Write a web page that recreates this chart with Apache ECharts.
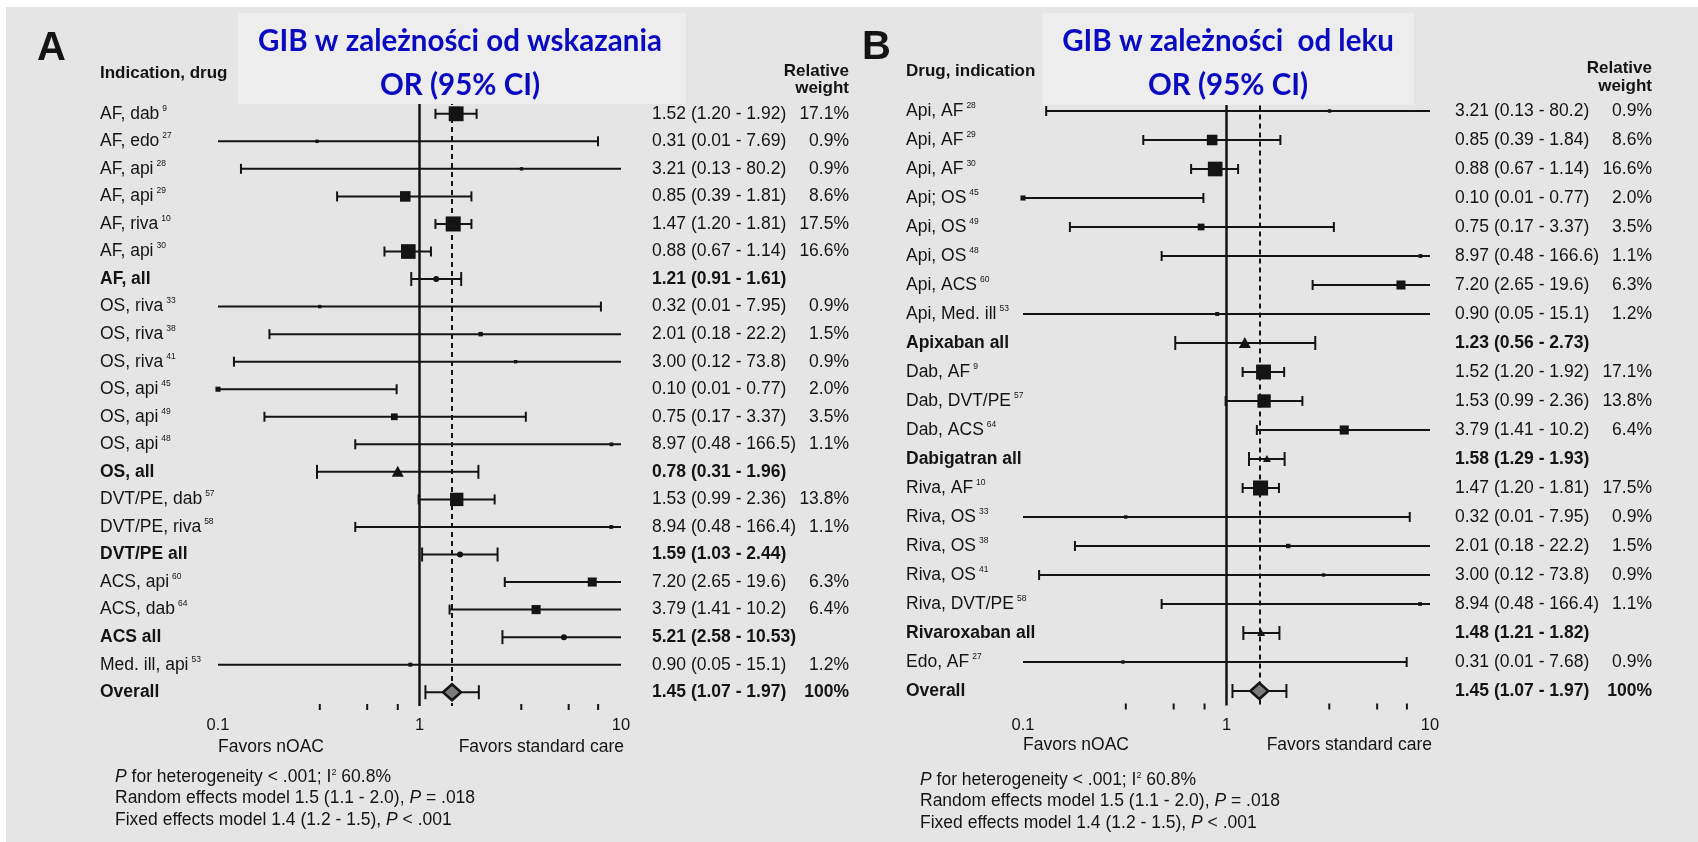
<!DOCTYPE html>
<html>
<head>
<meta charset="utf-8">
<script src="https://cdn.jsdelivr.net/npm/echarts@6/dist/echarts.min.js"></script>
<style>
html, body { margin: 0; padding: 0; background: #fff; }
#chart { width: 1698px; height: 842px; }
</style>
</head>
<body>
<div id="chart"></div>
<script>
// Panel A: GIB by indication
const labelsA = ['AF, dab', 'AF, edo', 'AF, api', 'AF, api', 'AF, riva', 'AF, api', 'AF, all',
  'OS, riva', 'OS, riva', 'OS, riva', 'OS, api', 'OS, api', 'OS, api', 'OS, all',
  'DVT/PE, dab', 'DVT/PE, riva', 'DVT/PE all', 'ACS, api', 'ACS, dab', 'ACS all',
  'Med. ill, api', 'Overall'];
const refsA = ['9', '27', '28', '29', '10', '30', '', '33', '38', '41', '45', '49', '48', '',
  '57', '58', '', '60', '64', '', '53', ''];
const orA = [1.52, 0.31, 3.21, 0.85, 1.47, 0.88, 1.21, 0.32, 2.01, 3.00, 0.10, 0.75, 8.97, 0.78,
  1.53, 8.94, 1.59, 7.20, 3.79, 5.21, 0.90, 1.45];
const loA = [1.20, 0.01, 0.13, 0.39, 1.20, 0.67, 0.91, 0.01, 0.18, 0.12, 0.01, 0.17, 0.48, 0.31,
  0.99, 0.48, 1.03, 2.65, 1.41, 2.58, 0.05, 1.07];
const hiA = [1.92, 7.69, 80.2, 1.81, 1.81, 1.14, 1.61, 7.95, 22.2, 73.8, 0.77, 3.37, 166.5, 1.96,
  2.36, 166.4, 2.44, 19.6, 10.2, 10.53, 15.1, 1.97];
const weightA = [17.1, 0.9, 0.9, 8.6, 17.5, 16.6, null, 0.9, 1.5, 0.9, 2.0, 3.5, 1.1, null,
  13.8, 1.1, null, 6.3, 6.4, null, 1.2, 100];
const kindA = ['sq', 'sq', 'sq', 'sq', 'sq', 'sq', 'dot', 'sq', 'sq', 'sq', 'sq', 'sq', 'sq', 'tri',
  'sq', 'sq', 'dot', 'sq', 'sq', 'dot', 'sq', 'dia'];

// Panel B: GIB by drug
const labelsB = ['Api, AF', 'Api, AF', 'Api, AF', 'Api; OS', 'Api, OS', 'Api, OS', 'Api, ACS', 'Api, Med. ill',
  'Apixaban all', 'Dab, AF', 'Dab, DVT/PE', 'Dab, ACS', 'Dabigatran all',
  'Riva, AF', 'Riva, OS', 'Riva, OS', 'Riva, OS', 'Riva, DVT/PE', 'Rivaroxaban all', 'Edo, AF', 'Overall'];
const refsB = ['28', '29', '30', '45', '49', '48', '60', '53', '', '9', '57', '64', '',
  '10', '33', '38', '41', '58', '', '27', ''];
const orB = [3.21, 0.85, 0.88, 0.10, 0.75, 8.97, 7.20, 0.90, 1.23, 1.52, 1.53, 3.79, 1.58,
  1.47, 0.32, 2.01, 3.00, 8.94, 1.48, 0.31, 1.45];
const loB = [0.13, 0.39, 0.67, 0.01, 0.17, 0.48, 2.65, 0.05, 0.56, 1.20, 0.99, 1.41, 1.29,
  1.20, 0.01, 0.18, 0.12, 0.48, 1.21, 0.01, 1.07];
const hiB = [80.2, 1.84, 1.14, 0.77, 3.37, 166.6, 19.6, 15.1, 2.73, 1.92, 2.36, 10.2, 1.93,
  1.81, 7.95, 22.2, 73.8, 166.4, 1.82, 7.68, 1.97];
const weightB = [0.9, 8.6, 16.6, 2.0, 3.5, 1.1, 6.3, 1.2, null, 17.1, 13.8, 6.4, null,
  17.5, 0.9, 1.5, 0.9, 1.1, null, 0.9, 100];
const kindB = ['sq', 'sq', 'sq', 'sq', 'sq', 'sq', 'sq', 'sq', 'tri', 'sq', 'sq', 'sq', 'tris',
  'sq', 'sq', 'sq', 'sq', 'sq', 'tris', 'sq', 'dia'];

const xTicks = [0.1, 1, 10];
const minorTicks = [0.32, 0.55, 0.78, 3.2, 5.5, 7.7];

const X_MIN = 0.1, X_MAX = 10;
const INK = '#141414';
const FONT = '"Liberation Sans", Arial, sans-serif';
const FS = 17.5;

const chart = echarts.init(document.getElementById('chart'));

function fmt(v, pooled) {
  return (!pooled && v >= 10) ? v.toFixed(1) : v.toFixed(2);
}

function forestItem(or, lo, hi, wt, kind) {
  return function (params, api) {
    const i = params.dataIndex;
    const y = api.coord([1, i])[1];
    const a = Math.max(lo[i], X_MIN), b = Math.min(hi[i], X_MAX);
    const x0 = api.coord([a, i])[0];
    const x1 = api.coord([b, i])[0];
    const xc = api.coord([or[i], i])[0];
    const pooled = wt[i] == null || wt[i] === 100;
    const capH = pooled ? 7 : 5;
    const line = { stroke: INK, lineWidth: 2 };
    const kids = [{ type: 'line', shape: { x1: x0, y1: y, x2: x1, y2: y }, style: line }];
    if (lo[i] >= X_MIN) kids.push({ type: 'line', shape: { x1: x0, y1: y - capH, x2: x0, y2: y + capH }, style: line });
    if (hi[i] <= X_MAX) kids.push({ type: 'line', shape: { x1: x1, y1: y - capH, x2: x1, y2: y + capH }, style: line });
    const k = kind[i];
    if (k === 'sq') {
      const s = Math.max(3, 3.6 * Math.sqrt(wt[i]));
      kids.push({ type: 'rect', shape: { x: xc - s / 2, y: y - s / 2, width: s, height: s }, style: { fill: INK } });
    } else if (k === 'dot') {
      kids.push({ type: 'circle', shape: { cx: xc, cy: y, r: 3 }, style: { fill: INK } });
    } else if (k === 'tri' || k === 'tris') {
      const t = k === 'tri' ? 6 : 4;
      kids.push({ type: 'polygon', shape: { points: [[xc, y - t], [xc - t, y + t - 1], [xc + t, y + t - 1]] }, style: { fill: INK } });
    } else if (k === 'dia') {
      kids.push({ type: 'polygon', shape: { points: [[xc - 9, y], [xc, y - 8], [xc + 9, y], [xc, y + 8]] },
        style: { fill: '#7a7a7a', stroke: INK, lineWidth: 2.5 } });
    }
    return { type: 'group', children: kids };
  };
}

function minorTickItem(params, api) {
  const x = api.coord([api.value(0), 0])[0];
  const bottom = params.coordSys.y + params.coordSys.height;
  return { type: 'line', shape: { x1: x, y1: bottom - 2, x2: x, y2: bottom + 4 }, style: { stroke: INK, lineWidth: 2 } };
}

const richLeft = {
  n: { fontSize: FS, color: INK, fontFamily: FONT, lineHeight: 20 },
  s: { fontSize: 8.5, color: INK, fontFamily: FONT, verticalAlign: 'top', padding: [0, 0, 0, 3] },
  b: { fontSize: FS, color: INK, fontFamily: FONT, fontWeight: 'bold', lineHeight: 20 }
};

function rightRich(ciW) {
  return {
    ci: { width: ciW, fontSize: FS, color: INK, fontFamily: FONT },
    w: { width: 52, align: 'right', fontSize: FS, color: INK, fontFamily: FONT },
    cb: { width: ciW, fontSize: FS, color: INK, fontFamily: FONT, fontWeight: 'bold' },
    wb: { width: 52, align: 'right', fontSize: FS, color: INK, fontFamily: FONT, fontWeight: 'bold' }
  };
}

function panel(idx, labels, refs, or, lo, hi, wt, kind, rightMargin, ciW) {
  const cats = labels.map((_, i) => String(i));
  const yLeft = {
    type: 'category', gridIndex: idx, inverse: true, data: cats,
    axisLine: { show: false }, axisTick: { show: false },
    axisLabel: {
      align: 'left', margin: idx === 0 ? 118 : 117,
      formatter: (v, i) => refs[i] ? `{n|${labels[i]}}{s|${refs[i]}}` : `{b|${labels[i]}}`,
      rich: richLeft
    }
  };
  const yRight = {
    type: 'category', gridIndex: idx, inverse: true, data: cats, position: 'right',
    axisLine: { show: false }, axisTick: { show: false },
    axisLabel: {
      align: 'left', margin: rightMargin,
      formatter: (v, i) => {
        const pooled = wt[i] == null || wt[i] === 100;
        const ci = `${or[i].toFixed(2)} (${fmt(lo[i], pooled)} - ${fmt(hi[i], pooled)})`;
        const w = wt[i] == null ? '' : (wt[i] === 100 ? '100%' : wt[i].toFixed(1) + '%');
        return pooled ? `{cb|${ci}}{wb|${w}}` : `{ci|${ci}}{w|${w}}`;
      },
      rich: rightRich(ciW)
    }
  };
  const x = {
    type: 'log', logBase: 10, gridIndex: idx, min: X_MIN, max: X_MAX,
    axisLine: { lineStyle: { color: INK, width: 2.5 } },
    axisTick: { length: 5, lineStyle: { color: INK, width: 2 } },
    splitLine: { show: false },
    axisLabel: {
      fontSize: 16.5, color: INK, fontFamily: FONT, margin: 11,
      formatter: v => xTicks.some(t => Math.abs(t - v) < 1e-9) ? String(v) : ''
    }
  };
  const series = [
    {
      type: 'custom', xAxisIndex: idx, yAxisIndex: idx * 2,
      data: labels.map((_, i) => [or[i], i]),
      encode: { x: 0, y: 1 },
      renderItem: forestItem(or, lo, hi, wt, kind),
      z: 5,
      markLine: {
        silent: true, symbol: 'none', label: { show: false },
        data: [
          { xAxis: 1, lineStyle: { color: INK, width: 2.5, type: 'solid' } },
          { xAxis: or[or.length - 1], lineStyle: { color: INK, width: 2, type: [5, 4] } }
        ]
      }
    },
    {
      type: 'custom', xAxisIndex: idx, yAxisIndex: idx * 2,
      data: minorTicks.map(v => [v, 0]),
      encode: { x: 0, y: 1 },
      renderItem: minorTickItem
    }
  ];
  return { yAxes: [yLeft, yRight], x, series };
}

const pA = panel(0, labelsA, refsA, orA, loA, hiA, weightA, kindA, 31, 145);
const pB = panel(1, labelsB, refsB, orB, loB, hiB, weightB, kindB, 25, 145);

function txt(x, y, text, extra) {
  return { type: 'text', x, y, z: 20, style: Object.assign({ text, fill: INK, font: FS + 'px ' + FONT, textVerticalAlign: 'middle' }, extra) };
}

const footRich = {
  i: { fontStyle: 'italic', fontSize: FS, fontFamily: FONT, fill: INK },
  s: { fontSize: 9, fontFamily: FONT, fill: INK, verticalAlign: 'top' }
};

function footnotes(x, y) {
  return [
    txt(x, y, '{i|P} for heterogeneity < .001; I{s|2} 60.8%', { rich: footRich }),
    txt(x, y + 21.5, 'Random effects model 1.5 (1.1 - 2.0), {i|P} = .018', { rich: footRich }),
    txt(x, y + 43, 'Fixed effects model 1.4 (1.2 - 1.5), {i|P} < .001', { rich: footRich })
  ];
}

const BLUE = '#0a0ac0';
const titleFont = 'bold 29.5px Lato, "Liberation Sans", sans-serif';
const HEAD = 'bold 17px ' + FONT;

chart.setOption({
  backgroundColor: '#e5e5e5',
  animation: false,
  grid: [
    { left: 218, width: 403, top: 100, height: 606 },
    { left: 1023, width: 407, top: 96.5, height: 609 }
  ],
  xAxis: [pA.x, pB.x],
  yAxis: [...pA.yAxes, ...pB.yAxes],
  series: [...pA.series, ...pB.series],
  graphic: [
    { type: 'rect', z: 1, shape: { x: 0, y: 0, width: 1698, height: 7 }, style: { fill: '#ffffff' } },
    { type: 'rect', z: 1, shape: { x: 0, y: 0, width: 6, height: 842 }, style: { fill: '#ffffff' } },
    { type: 'rect', z: 10, shape: { x: 238, y: 13, width: 448, height: 91 }, style: { fill: '#ededed' } },
    { type: 'rect', z: 10, shape: { x: 1043, y: 13, width: 371, height: 92 }, style: { fill: '#ededed' } },
    txt(460, 41, 'GIB w zależności od wskazania', { font: titleFont, fill: BLUE, textAlign: 'center' }),
    txt(460, 85, 'OR (95% CI)', { font: titleFont, fill: BLUE, textAlign: 'center' }),
    txt(1228, 41, 'GIB w zależności  od leku', { font: titleFont, fill: BLUE, textAlign: 'center' }),
    txt(1228, 85, 'OR (95% CI)', { font: titleFont, fill: BLUE, textAlign: 'center' }),
    txt(37, 49, 'A', { font: 'bold 40px ' + FONT }),
    txt(862, 48, 'B', { font: 'bold 40px ' + FONT }),
    txt(100, 73, 'Indication, drug', { font: HEAD }),
    txt(906, 71, 'Drug, indication', { font: HEAD }),
    txt(849, 71, 'Relative', { font: HEAD, textAlign: 'right' }),
    txt(849, 88, 'weight', { font: HEAD, textAlign: 'right' }),
    txt(1652, 68, 'Relative', { font: HEAD, textAlign: 'right' }),
    txt(1652, 86, 'weight', { font: HEAD, textAlign: 'right' }),
    txt(218, 747, 'Favors nOAC'),
    txt(624, 747, 'Favors standard care', { textAlign: 'right' }),
    txt(1023, 745, 'Favors nOAC'),
    txt(1432, 745, 'Favors standard care', { textAlign: 'right' }),
    ...footnotes(115, 777),
    ...footnotes(920, 780)
  ]
});
</script>
</body>
</html>
